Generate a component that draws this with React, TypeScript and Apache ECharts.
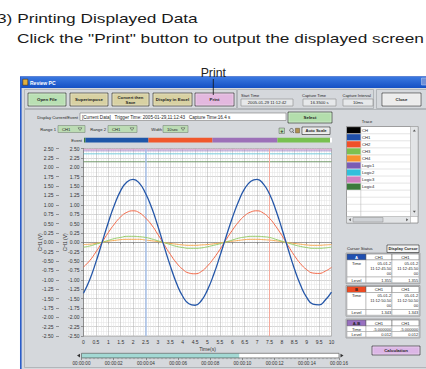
import React, { useEffect, useRef } from 'react';
import * as echarts from 'echarts';

// ---------- data ----------
const timeS = [0, 0.25, 0.5, 0.75, 1, 1.25, 1.5, 1.75, 2, 2.25, 2.5, 2.75, 3, 3.25, 3.5, 3.75, 4, 4.25, 4.5, 4.75, 5, 5.25, 5.5, 5.75, 6, 6.25, 6.5, 6.75, 7, 7.25, 7.5, 7.75, 8, 8.25, 8.5, 8.75, 9, 9.25, 9.5, 9.75, 10];
const ch1 = [-1.36, -1.0, -0.53, 0.0, 0.53, 1.0, 1.38, 1.61, 1.68, 1.58, 1.31, 0.92, 0.43, -0.11, -0.63, -1.09, -1.44, -1.64, -1.68, -1.56, -1.27, -0.86, -0.37, 0.15, 0.65, 1.09, 1.43, 1.63, 1.68, 1.56, 1.29, 0.87, 0.36, -0.18, -0.7, -1.14, -1.47, -1.65, -1.67, -1.54, -1.33];
const ch2 = [-0.66, -0.49, -0.26, 0.0, 0.26, 0.49, 0.68, 0.8, 0.84, 0.79, 0.65, 0.46, 0.21, -0.06, -0.32, -0.55, -0.72, -0.82, -0.84, -0.78, -0.63, -0.43, -0.19, 0.07, 0.32, 0.54, 0.71, 0.81, 0.84, 0.78, 0.64, 0.43, 0.18, -0.09, -0.35, -0.57, -0.73, -0.82, -0.83, -0.77, -0.67];
const ch3 = [-0.13, -0.1, -0.05, 0.0, 0.05, 0.1, 0.13, 0.16, 0.16, 0.15, 0.13, 0.09, 0.04, -0.01, -0.06, -0.11, -0.14, -0.16, -0.16, -0.15, -0.12, -0.08, -0.04, 0.01, 0.06, 0.11, 0.14, 0.16, 0.16, 0.15, 0.13, 0.08, 0.03, -0.02, -0.07, -0.11, -0.14, -0.16, -0.16, -0.15, -0.13];
const ch4 = [-0.06, -0.05, -0.03, 0.0, 0.03, 0.05, 0.07, 0.08, 0.08, 0.08, 0.06, 0.04, 0.02, -0.01, -0.03, -0.05, -0.07, -0.08, -0.08, -0.07, -0.06, -0.04, -0.02, 0.01, 0.03, 0.05, 0.07, 0.08, 0.08, 0.07, 0.06, 0.04, 0.02, -0.01, -0.03, -0.05, -0.07, -0.08, -0.08, -0.07, -0.06];
const channelNames = ['CH4', 'CH3', 'CH2', 'CH1'];
const channelColors = ['#f6a850', '#96cc6a', '#f26a4a', '#2456a8'];

const logicNames = ['Logic4', 'Logic2', 'Logic1', 'Logic3'];
const logicLevels = [2.15, 2.36, 2.44, 2.48];
const logicColors = ['#5a8a50', '#5cc6dc', '#9a78c0', '#d890c8'];

const cursorA = 2.5;
const cursorB = 7.5;

const eventDurations = [0.06, 2.54, 2.58, 2.62, 2.12, 0.08];
const eventColors = ['#3a7a3a', '#1e56a8', '#f0582c', '#9c70b8', '#78c050', '#ffffff'];

const scrollPosition = [9.8];

const traceNames = ['CH', 'CH1', 'CH2', 'CH3', 'CH4', 'Logic1', 'Logic2', 'Logic3', 'Logic4'];
const traceColors = ['#000000', '#1f4fa8', '#f0502a', '#7cc050', '#f7922e', '#7a5cb4', '#30c0dc', '#d080c0', '#3c7a3c'];

const tableATime = ['05-01-2', '11:12:45.50', '00'];
const tableALevel = ['1.355', '1.355'];
const tableBTime = ['05-01-2', '11:12:50.50', '00'];
const tableBLevel = ['1.343', '1.343'];
const tableABTime = ['-5.000000', '-5.000000'];
const tableABLevel = ['0.012', '0.012'];

const FONT = '"Liberation Sans", Arial, sans-serif';

function txt(x: number, y: number, text: string, o: any = {}) {
  const align = o.align || 'left';
  return {
    type: 'text', x, y, z: o.z ?? 60, silent: true,
    scaleX: o.sx || 1, scaleY: o.sy || 1,
    style: {
      text, fill: o.color || '#1e1e1e',
      fontSize: o.size || 4.4, fontFamily: o.family || FONT, fontWeight: o.bold ? 'bold' : 'normal',
      align, verticalAlign: 'middle', textAlign: align, textVerticalAlign: 'middle',
    },
  };
}
function rect(x: number, y: number, w: number, h: number, fill: any, stroke?: string, lw = 0.6, z = 40) {
  const style: any = { fill };
  if (stroke) { style.stroke = stroke; style.lineWidth = lw; }
  return { type: 'rect', z, silent: true, shape: { x, y, width: w, height: h }, style };
}
function button(x: number, y: number, w: number, h: number, fill: string, lines: string[], size = 4.4) {
  const els: any[] = [rect(x, y, w, h, fill, '#3e3e3e', 0.7, 42), rect(x + 1, y + 1, w - 2, h - 2, 'none', 'rgba(255,255,255,0.6)', 0.5, 43)];
  const cy = y + h / 2 - ((lines.length - 1) * 5) / 2;
  lines.forEach((l, i) => els.push(txt(x + w / 2, cy + i * 5, l, { align: 'center', bold: true, size })));
  return els;
}
function dropdown(x: number, y: number, w: number, label: string) {
  return [
    rect(x, y, w, 7, '#bcdcb4', '#7a8a7a', 0.6, 42),
    txt(x + 4, y + 3.6, label, { size: 4.2 }),
    { type: 'polygon', z: 45, silent: true, shape: { points: [[x + w - 7, y + 2.3], [x + w - 3, y + 2.3], [x + w - 5, y + 5]] }, style: { fill: 'none', stroke: '#4a4a4a', lineWidth: 0.5 } },
  ];
}
function cursorTable(y0: number, tag: string, tagFill: string, tagColor: string, timeLines: string[][], levels: string[], timeH: number, levelH: number) {
  const X = [347, 366, 392, 419];
  const els: any[] = [];
  const y1 = y0 + 6, y2 = y1 + timeH;
  els.push(rect(X[0] - 1, y0 - 1, X[3] - X[0] + 2, y2 + levelH - y0 + 2, 'none', '#8a8a8a', 0.6, 41));
  for (let c = 0; c < 3; c++) {
    const w = X[c + 1] - X[c];
    els.push(rect(X[c], y0, w, 6, c === 0 ? tagFill : '#ffffff', '#5a5a5a', 0.5, 42));
    els.push(rect(X[c], y1, w, timeH, '#ffffff', '#9a9a9a', 0.5, 42));
    els.push(rect(X[c], y2, w, levelH, '#ffffff', '#9a9a9a', 0.5, 42));
  }
  els.push(txt((X[0] + X[1]) / 2, y0 + 3.2, tag, { align: 'center', bold: true, size: 4.2, color: tagColor }));
  els.push(txt((X[1] + X[2]) / 2, y0 + 3.2, 'CH1', { align: 'center', size: 4.2 }));
  els.push(txt((X[2] + X[3]) / 2, y0 + 3.2, 'CH1', { align: 'center', size: 4.2 }));
  els.push(txt((X[0] + X[1]) / 2, y1 + 3, 'Time', { align: 'center', size: 4.2 }));
  els.push(txt((X[0] + X[1]) / 2, y2 + levelH / 2 + 0.2, 'Level', { align: 'center', size: 4.2 }));
  for (let c = 0; c < 2; c++) {
    const right = X[c + 2] - 0.8;
    timeLines[c].forEach((l, j) => els.push(txt(right, y1 + 3 + j * 5, l, { align: 'right', size: 4 })));
    els.push(txt(right, y2 + levelH / 2 + 0.2, levels[c], { align: 'right', size: 4 }));
  }
  return els;
}

function buildGraphic() {
  const g: any[] = [];
  // instructions above the screenshot
  g.push(txt(-3, 18.5, '3) Printing Displayed Data', { size: 13, sx: 1.33, color: '#1a1a1a' }));
  g.push(txt(17, 38.5, 'Click the "Print" button to output the displayed screen', { size: 13, sx: 1.33, color: '#1a1a1a' }));
  g.push(txt(213.3, 72.5, 'Print', { size: 12.3, align: 'center', color: '#222' }));
  g.push({ type: 'line', z: 70, silent: true, shape: { x1: 213.3, y1: 79, x2: 213.3, y2: 95 }, style: { stroke: '#111', lineWidth: 0.8 } });

  // window
  g.push(rect(20.8, 77, 408, 294, '#d5d8dc', '#2a5cc8', 1.6, -10));
  g.push(rect(21, 77, 407, 11, new (echarts as any).graphic.LinearGradient(0, 0, 0, 1, [{ offset: 0, color: '#3a78e0' }, { offset: 1, color: '#1450c4' }]), undefined, 0, -9));
  g.push(rect(22.8, 79.2, 5, 6, '#e0b040', '#402000', 0.5, 40));
  g.push(txt(30, 82.6, 'Review PC', { bold: true, size: 5, color: '#ffffff' }));
  g.push(rect(421.5, 78, 6, 7, '#7090d8', '#c0d0f0', 0.5, 40));

  // frames
  g.push(rect(24.5, 89.5, 212, 19, 'none', '#a4a7ab', 0.7, -8));
  g.push(rect(237.5, 89.5, 136, 19, 'none', '#a4a7ab', 0.7, -8));
  g.push(rect(376.5, 89.5, 52, 19, 'none', '#a4a7ab', 0.7, -8));
  g.push(rect(24.5, 109.5, 403, 258, 'none', '#a4a7ab', 0.7, -8));

  // top buttons
  g.push(...button(28, 93, 38, 13, '#b9e0b3', ['Open File']));
  g.push(...button(70, 93, 38, 13, '#d8d1a2', ['Superimpose']));
  g.push(...button(112, 93, 37, 13, '#d8d1a2', ['Convert then', 'Save'], 4.2));
  g.push(...button(153, 93, 39, 13, '#d8d1a2', ['Display in Excel']));
  g.push(...button(195, 93, 39, 13, '#e3b8df', ['Print']));
  g.push(...button(382, 93, 39, 13, '#ececec', ['Close']));

  // info boxes
  g.push(txt(241, 95.6, 'Start Time', { size: 4 }));
  g.push(rect(241, 99, 52, 7, '#e6e8ea', '#8a8a8a', 0.6));
  g.push(txt(267, 102.6, '2005-01-29 11:12:42', { size: 4.2, align: 'center' }));
  g.push(txt(302, 95.6, 'Capture Time', { size: 4 }));
  g.push(rect(303, 99, 33, 7, '#e6e8ea', '#8a8a8a', 0.6));
  g.push(txt(319.5, 102.6, '16.3500 s', { size: 4.2, align: 'center' }));
  g.push(txt(342.5, 95.6, 'Capture Interval', { size: 4 }));
  g.push(rect(343, 99, 30, 7, '#e6e8ea', '#8a8a8a', 0.6));
  g.push(txt(358, 102.6, '10ms', { size: 4.2, align: 'center' }));

  // display row
  g.push(txt(78, 117, 'Display Current/Event', { size: 4.2, align: 'right' }));
  g.push(rect(80, 113, 206, 7.5, '#ffffff', '#7a7a7a', 0.6));
  g.push(txt(82, 117, '[Current Data]   Trigger Time: 2005-01-29,11:12:43   Capture Time:16.4 s', { size: 4.6 }));
  g.push(...button(288, 112, 44, 11, '#b3deac', ['Select']));

  // range row
  g.push(txt(56, 129, 'Range 1', { size: 4.2, align: 'right' }));
  g.push(...dropdown(58, 125.5, 27, 'CH1'));
  g.push(txt(106, 129, 'Range 2', { size: 4.2, align: 'right' }));
  g.push(...dropdown(108, 125.5, 29, 'CH1'));
  g.push(txt(162, 129, 'Width', { size: 4.2, align: 'right' }));
  g.push(...dropdown(163, 125.5, 25, '10sec'));
  g.push(rect(279, 128, 5.5, 5.5, '#b8dcb0', '#606060', 0.5));
  g.push(txt(281.75, 130.9, '+', { size: 5.5, bold: true, align: 'center' }));
  g.push({ type: 'circle', z: 45, silent: true, shape: { cx: 291.5, cy: 130.3, r: 1.8 }, style: { fill: 'none', stroke: '#333', lineWidth: 0.6 } });
  g.push({ type: 'line', z: 45, silent: true, shape: { x1: 292.8, y1: 131.6, x2: 294, y2: 133 }, style: { stroke: '#333', lineWidth: 0.7 } });
  g.push(rect(295.5, 128.3, 4, 4.6, '#b09050', '#4a3a20', 0.4));
  g.push(...button(302, 127, 28, 7.5, '#e8e8e8', ['Auto Scale'], 4.1));

  g.push(txt(82, 140.2, 'Event', { size: 4.2, align: 'right' }));

  // trace panel
  g.push(txt(367, 121.7, 'Trace', { size: 4.2, align: 'center' }));
  g.push(rect(346.5, 126.5, 71.5, 96.5, '#ffffff', '#6a6a6a', 0.6, 40));
  const rowH = 7.05;
  for (let i = 0; i < 13; i++) {
    const y = 126.7 + i * rowH;
    if (y + rowH < 216.5) g.push({ type: 'line', z: 41, silent: true, shape: { x1: 346.5, y1: y + rowH, x2: 410.5, y2: y + rowH }, style: { stroke: '#c8c8c8', lineWidth: 0.5 } });
  }
  g.push({ type: 'line', z: 41, silent: true, shape: { x1: 360.8, y1: 126.5, x2: 360.8, y2: 216.5 }, style: { stroke: '#b0b0b0', lineWidth: 0.5 } });
  traceNames.forEach((n, i) => {
    const y = 126.7 + i * rowH;
    g.push(rect(347, y + 0.4, 13.6, rowH - 0.8, traceColors[i], undefined, 0, 42));
    g.push(txt(362, y + rowH / 2 + 0.2, n, { size: 4.2 }));
  });
  g.push(rect(410.5, 126.5, 7.5, 90, '#e2e4e6', '#9a9a9a', 0.5, 43));
  g.push({ type: 'polygon', z: 45, silent: true, shape: { points: [[412.8, 131.5], [415.8, 131.5], [414.3, 129.5]] }, style: { fill: '#555' } });
  g.push({ type: 'polygon', z: 45, silent: true, shape: { points: [[412.8, 210.8], [415.8, 210.8], [414.3, 212.8]] }, style: { fill: '#555' } });
  g.push(rect(346.5, 216.5, 64, 6.5, '#e2e4e6', '#9a9a9a', 0.5, 43));
  g.push(rect(353, 217.5, 30, 4.5, '#cfd2d6', '#8a8a8a', 0.5, 44));
  g.push({ type: 'polygon', z: 45, silent: true, shape: { points: [[350.8, 218.2], [350.8, 221.2], [348.8, 219.7]] }, style: { fill: '#555' } });
  g.push({ type: 'polygon', z: 45, silent: true, shape: { points: [[406.2, 218.2], [406.2, 221.2], [408.2, 219.7]] }, style: { fill: '#555' } });

  // cursor status
  g.push(txt(347, 248.5, 'Cursor Status', { size: 4.2 }));
  g.push(...button(387, 245, 32, 7.5, '#f2f2f2', ['Display Cursor'], 4.1));
  g.push(...cursorTable(254, 'A', '#1f4fb0', '#ffffff', [tableATime, tableATime], tableALevel, 17, 5.7));
  g.push(...cursorTable(286.5, 'B', '#ee4a22', '#222222', [tableBTime, tableBTime], tableBLevel, 17, 5.7));
  g.push(...cursorTable(320, 'A-B', '#9870c0', '#222222', [[tableABTime[0]], [tableABTime[1]]], tableABLevel, 5.5, 5.5));
  g.push(...button(372, 346, 48, 9, '#dcb6e6', ['Calculation']));

  // time scroll bar frame and arrows
  g.push(rect(81.5, 353.3, 257.5, 4.6, 'none', '#4a4a4a', 0.6, 60));
  g.push({ type: 'polygon', z: 60, silent: true, shape: { points: [[77, 355.6], [80, 353.8], [80, 357.4]] }, style: { fill: '#333' } });
  g.push({ type: 'polygon', z: 60, silent: true, shape: { points: [[343.5, 355.6], [340.5, 353.8], [340.5, 357.4]] }, style: { fill: '#333' } });
  return g;
}

export default function App() {
  const ref = useRef<HTMLDivElement>(null);
  useEffect(() => {
    if (!ref.current) return;
    const chart = echarts.init(ref.current, undefined, { renderer: 'svg' });
    const axisTxt = { fontSize: 5, color: '#333333', fontFamily: FONT };
    const gridLine = { show: true, lineStyle: { color: '#b9b9b9', width: 0.6 } };
    const minorLine = { show: true, lineStyle: { color: '#e3e3e3', width: 0.5 } };

    const series: any[] = [];
    logicLevels.forEach((lvl, i) => {
      series.push({
        name: logicNames[i], type: 'line', xAxisIndex: 0, yAxisIndex: 0,
        data: [[timeS[0], lvl], [timeS[timeS.length - 1], lvl]],
        symbol: 'none', lineStyle: { color: logicColors[i], width: 0.8 }, z: 3,
      });
    });
    [ch4, ch3, ch2, ch1].forEach((arr, i) => {
      const s: any = {
        name: channelNames[i], type: 'line', xAxisIndex: 0, yAxisIndex: 0,
        data: timeS.map((t, k) => [t, arr[k]]),
        smooth: true, symbol: 'none',
        lineStyle: { color: channelColors[i], width: i === 3 ? 1.3 : 1 }, z: 4 + i,
      };
      if (i === 3) {
        s.markLine = {
          silent: true, symbol: ['none', 'none'], label: { show: false }, animation: false,
          data: [
            { xAxis: cursorA, lineStyle: { color: '#a9c2ea', width: 1.5, type: 'solid' } },
            { xAxis: cursorB, lineStyle: { color: '#f6aa9c', width: 1, type: 'solid' } },
          ],
        };
      }
      series.push(s);
    });
    eventDurations.forEach((d, i) => {
      series.push({
        type: 'bar', xAxisIndex: 1, yAxisIndex: 2, stack: 'event', data: [d],
        barWidth: '100%', itemStyle: { color: eventColors[i] }, silent: true,
      });
    });
    series.push({
      type: 'bar', xAxisIndex: 2, yAxisIndex: 3, data: scrollPosition, barWidth: '100%',
      itemStyle: { color: '#a3d9d4' }, showBackground: true, backgroundStyle: { color: '#ffffff' }, silent: true,
    });

    const option: any = {
      animation: false,
      backgroundColor: '#ffffff',
      textStyle: { fontFamily: FONT },
      grid: [
        { left: 83.5, top: 148.6, width: 248, height: 187.4, show: true, backgroundColor: '#ffffff', borderColor: '#8c8c8c', borderWidth: 0.6 },
        { left: 84, top: 137.8, width: 248, height: 4.6 },
        { left: 81.5, top: 353.3, width: 257.5, height: 4.6 },
      ],
      xAxis: [
        {
          gridIndex: 0, type: 'value', min: 0, max: 10, interval: 0.5,
          name: 'Time(s)', nameLocation: 'middle', nameGap: 10.5, nameTextStyle: axisTxt, nameMoveOverlap: false,
          axisLine: { show: true, lineStyle: { color: '#707070', width: 0.6 } },
          axisTick: { show: true, length: 2, lineStyle: { color: '#707070', width: 0.6 } },
          axisLabel: { ...axisTxt, margin: 3.5 },
          splitLine: gridLine,
          minorTick: { show: false, splitNumber: 5 },
          minorSplitLine: minorLine,
        },
        { gridIndex: 1, type: 'value', min: 0, max: 10, show: false },
        {
          gridIndex: 2, type: 'value', min: 0, max: 16, interval: 2,
          axisLine: { show: false },
          axisTick: { show: true, length: 2.2, lineStyle: { color: '#444', width: 0.5 } },
          minorTick: { show: true, splitNumber: 8, length: 1.3, lineStyle: { color: '#555', width: 0.4 } },
          axisLabel: { fontSize: 4.6, color: '#333', fontFamily: FONT, margin: 3, formatter: (v: number) => '00:00:' + String(v).padStart(2, '0') },
          splitLine: { show: false },
        },
      ],
      yAxis: [
        {
          gridIndex: 0, type: 'value', min: -2.5, max: 2.5, interval: 0.25, position: 'left',
          name: 'CH1 (V)', nameLocation: 'middle', nameGap: 16, nameTextStyle: axisTxt, nameMoveOverlap: false,
          axisLine: { show: true, lineStyle: { color: '#707070', width: 0.6 } },
          axisTick: { show: true, length: 2.5, lineStyle: { color: '#606060', width: 0.6 } },
          axisLabel: { ...axisTxt, margin: 4, formatter: (v: number) => v.toFixed(2) },
          splitLine: gridLine,
          minorTick: { show: false, splitNumber: 2 },
          minorSplitLine: minorLine,
        },
        {
          gridIndex: 0, type: 'value', min: -2.5, max: 2.5, interval: 0.25, position: 'left', offset: 24.5,
          name: 'CH1 (V)', nameLocation: 'middle', nameGap: 17, nameTextStyle: axisTxt, nameMoveOverlap: false,
          axisLine: { show: false },
          axisTick: { show: true, length: 3, lineStyle: { color: '#606060', width: 0.6 } },
          axisLabel: { ...axisTxt, margin: 5.5, formatter: (v: number) => v.toFixed(2) },
          splitLine: { show: false },
        },
        { gridIndex: 1, type: 'category', data: [''], show: false },
        { gridIndex: 2, type: 'category', data: [''], show: false },
      ],
      series,
      graphic: { elements: buildGraphic() },
    };
    chart.setOption(option);
    return () => chart.dispose();
  }, []);
  return <div ref={ref} style={{ position: 'fixed', left: 0, top: 0, width: 426, height: 369, background: '#fff' }} />;
}
